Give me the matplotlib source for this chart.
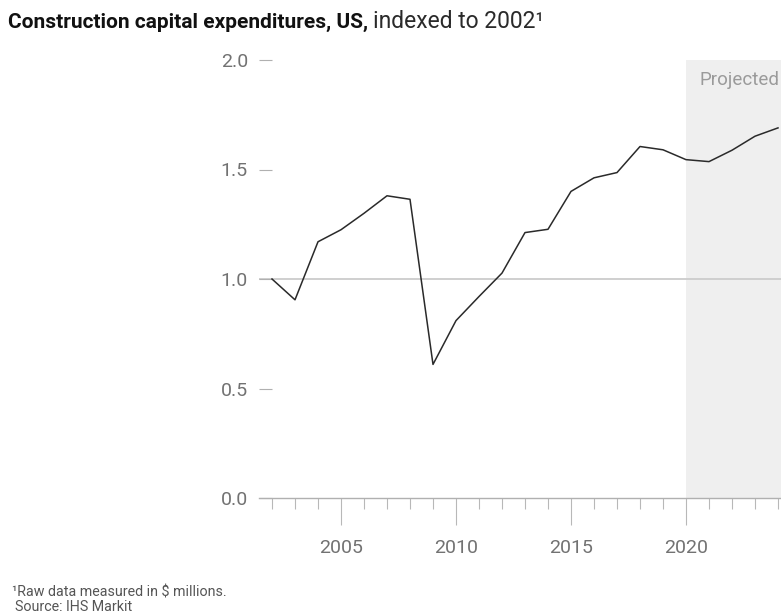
import numpy as np
import matplotlib
matplotlib.use("Agg")
import matplotlib.pyplot as plt

plt.rcParams['font.family'] = ['Roboto', 'DejaVu Sans']

# construction capex, US, indexed to 2002 (2020 onward projected)
years = np.arange(2002, 2025)
index = [1.00, 0.905, 1.17, 1.225, 1.30, 1.38, 1.364, 0.61, 0.81, 0.92,
         1.027, 1.212, 1.227, 1.40, 1.462, 1.486, 1.605, 1.59, 1.545,
         1.536, 1.588, 1.652, 1.69]
projected_from = 2020
y_ticks = [0.0, 0.5, 1.0, 1.5, 2.0]
x_major = [2005, 2010, 2015, 2020]

fig = plt.figure(figsize=(7.81, 6.16), dpi=100)
ax = fig.add_axes([259 / 781, 1 - 498 / 616, 1 - 259 / 781, (498 - 60) / 616])

x_lo = 2002 - 13 / 23
x_hi = 2002 + (781 - 272) / 23
ax.set_xlim(x_lo, x_hi)
ax.set_ylim(0, 2.0)

# projected period shading
ax.axvspan(projected_from, x_hi, color='#efefef', lw=0, zorder=0)
ax.text(projected_from + 0.6, 1.91, 'Projected', color='#9a9a9a',
        fontsize=13.5, va='center', ha='left')

# reference line at 1.0
ax.axhline(1.0, color='#cfcfcf', lw=1.4, zorder=1)

ax.plot(years, index, color='#2a2a2a', lw=1.1, zorder=3, clip_on=False)

for side in ['top', 'right', 'left']:
    ax.spines[side].set_visible(False)
ax.spines['bottom'].set_color('#b0b0b0')
ax.spines['bottom'].set_linewidth(1.0)

ax.set_yticks(y_ticks)
ax.set_yticklabels(['%.1f' % v for v in y_ticks])
ax.tick_params(axis='y', direction='in', length=9, width=0.8, color='#b0b0b0',
               pad=8, labelsize=14, labelcolor='#727272')

ax.set_xticks(x_major)
ax.set_xticks(years, minor=True)
ax.tick_params(axis='x', which='major', direction='out', length=19.5, width=0.8,
               color='#b8b8b8', pad=10, labelsize=14, labelcolor='#727272')
ax.tick_params(axis='x', which='minor', direction='out', length=8, width=0.8,
               color='#b8b8b8')

# title: bold part followed by regular part
t1 = fig.text(8 / 781, 1 - 22 / 616, 'Construction capital expenditures, US,',
              fontsize=15, fontweight='bold', color='#111111', va='center')
fig.canvas.draw()
bb = t1.get_window_extent(fig.canvas.get_renderer())
fig.text((bb.x1 + 5) / 781, 1 - 22 / 616, 'indexed to 2002\u00b9',
         fontsize=16.5, color='#2a2a2a', va='center')

fig.text(12 / 781, 1 - 592 / 616, '\u00b9Raw data measured in $ millions.',
         fontsize=10.3, color='#555555', va='center')
fig.text(15 / 781, 1 - 607 / 616, 'Source: IHS Markit',
         fontsize=10.3, color='#555555', va='center')

fig.savefig('out.png', dpi=100, facecolor='white')
